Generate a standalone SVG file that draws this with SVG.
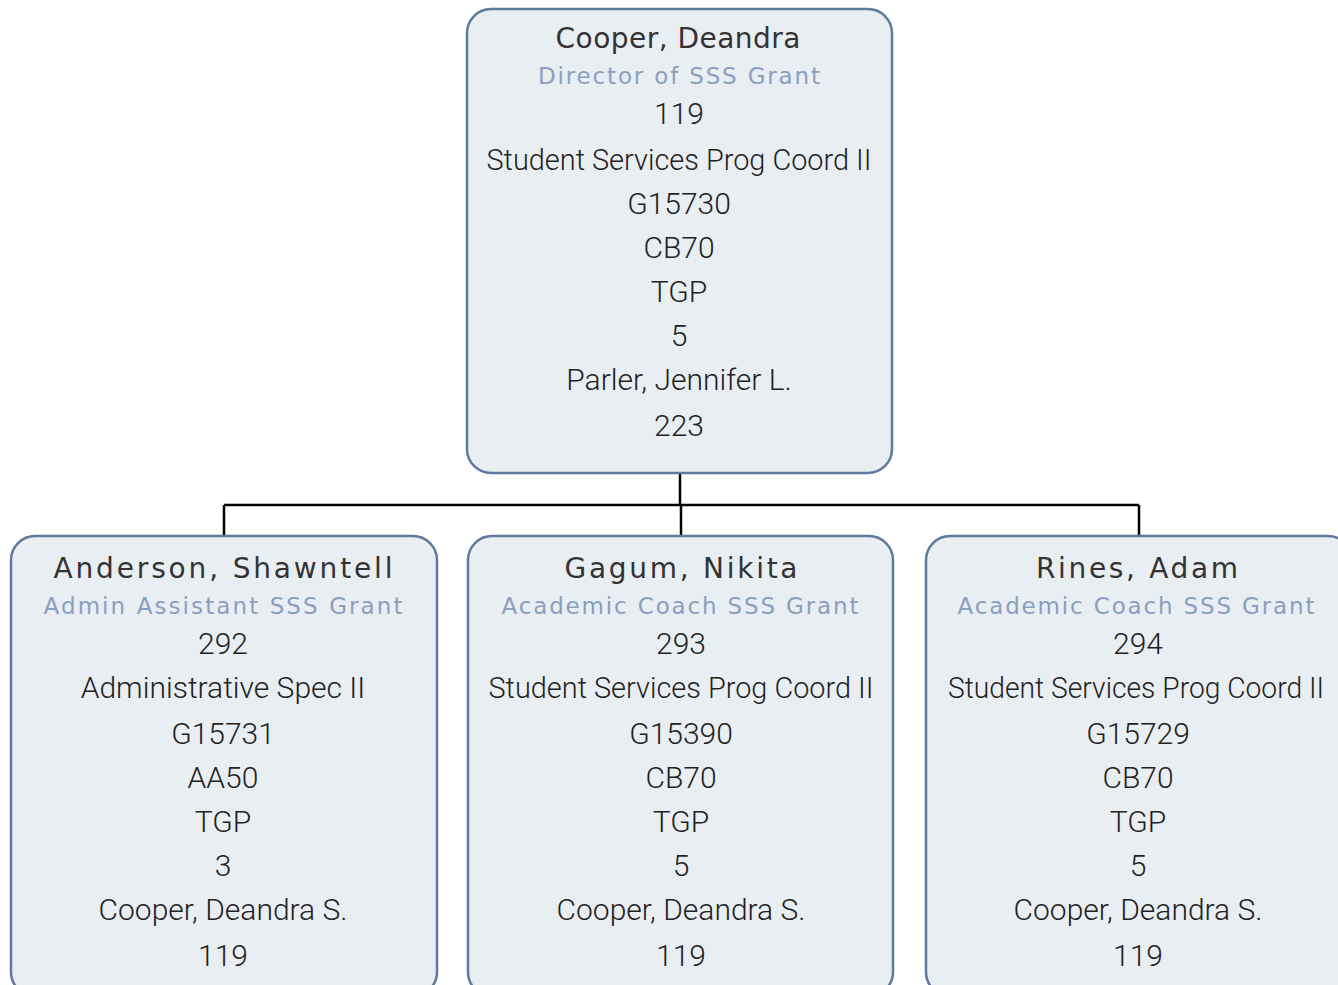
<svg xmlns="http://www.w3.org/2000/svg" width="1338" height="985" viewBox="0 0 1338 985">
<style>
.box{fill:#e9eef2;stroke:#5f7a9e;stroke-width:2.5}
.nm{font-family:"DejaVu Sans",sans-serif;font-size:28px;fill:#333;text-anchor:middle}
.tt{font-family:"DejaVu Sans",sans-serif;font-size:23px;fill:#8a9fbf;text-anchor:middle}
.bd{font-family:Roboto,sans-serif;font-weight:300;font-size:30px;fill:#222;text-anchor:middle}
.cn{fill:none;stroke:#000;stroke-width:2.5}
</style>
<rect width="1338" height="985" fill="#fff"/>
<g id="connectors">
<path class="cn" d="M680 473 V505 M224 505 H1139 M224 505 V536 M681 505 V536 M1139 505 V536"/>
</g>
<g id="n-cooper">
<rect class="box" x="467" y="9" width="425" height="464" rx="24"/>
<text class="nm" x="678" y="48" textLength="245" lengthAdjust="spacing">Cooper, Deandra</text>
<text class="tt" x="679" y="84" textLength="282" lengthAdjust="spacing">Director of SSS Grant</text>
<text class="bd" x="679" y="124">119</text>
<text class="bd" x="679" y="170" textLength="385" lengthAdjust="spacingAndGlyphs">Student Services Prog Coord II</text>
<text class="bd" x="679" y="214">G15730</text>
<text class="bd" x="679" y="258">CB70</text>
<text class="bd" x="679" y="302">TGP</text>
<text class="bd" x="679" y="346">5</text>
<text class="bd" x="679" y="390">Parler, Jennifer L.</text>
<text class="bd" x="679" y="436">223</text>
</g>
<g id="n-anderson">
<rect class="box" x="11" y="536" width="426" height="460" rx="24"/>
<text class="nm" x="223" y="578" textLength="339" lengthAdjust="spacing">Anderson, Shawntell</text>
<text class="tt" x="223" y="614" textLength="359" lengthAdjust="spacing">Admin Assistant SSS Grant</text>
<text class="bd" x="223" y="654">292</text>
<text class="bd" x="223" y="698">Administrative Spec II</text>
<text class="bd" x="223" y="744">G15731</text>
<text class="bd" x="223" y="788">AA50</text>
<text class="bd" x="223" y="832">TGP</text>
<text class="bd" x="223" y="876">3</text>
<text class="bd" x="223" y="920">Cooper, Deandra S.</text>
<text class="bd" x="223" y="966">119</text>
</g>
<g id="n-gagum">
<rect class="box" x="468" y="536" width="425" height="460" rx="24"/>
<text class="nm" x="681" y="578" textLength="233" lengthAdjust="spacing">Gagum, Nikita</text>
<text class="tt" x="680" y="614" textLength="357" lengthAdjust="spacing">Academic Coach SSS Grant</text>
<text class="bd" x="681" y="654">293</text>
<text class="bd" x="681" y="698" textLength="385" lengthAdjust="spacingAndGlyphs">Student Services Prog Coord II</text>
<text class="bd" x="681" y="744">G15390</text>
<text class="bd" x="681" y="788">CB70</text>
<text class="bd" x="681" y="832">TGP</text>
<text class="bd" x="681" y="876">5</text>
<text class="bd" x="681" y="920">Cooper, Deandra S.</text>
<text class="bd" x="681" y="966">119</text>
</g>
<g id="n-rines">
<rect class="box" x="926" y="536" width="426" height="460" rx="24"/>
<text class="nm" x="1137" y="578" textLength="202" lengthAdjust="spacing">Rines, Adam</text>
<text class="tt" x="1136" y="614" textLength="357" lengthAdjust="spacing">Academic Coach SSS Grant</text>
<text class="bd" x="1138" y="654">294</text>
<text class="bd" x="1136" y="698" textLength="376" lengthAdjust="spacingAndGlyphs">Student Services Prog Coord II</text>
<text class="bd" x="1138" y="744">G15729</text>
<text class="bd" x="1138" y="788">CB70</text>
<text class="bd" x="1138" y="832">TGP</text>
<text class="bd" x="1138" y="876">5</text>
<text class="bd" x="1138" y="920">Cooper, Deandra S.</text>
<text class="bd" x="1138" y="966">119</text>
</g>
</svg>
